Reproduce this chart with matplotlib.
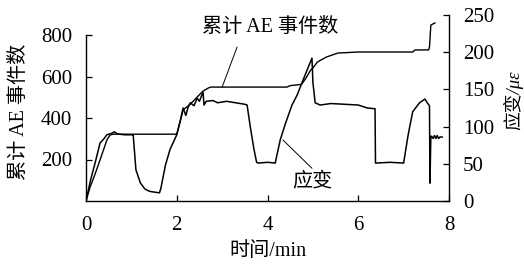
import matplotlib
matplotlib.use('Agg')
import matplotlib.pyplot as plt

FONTS = ['Liberation Serif', 'Noto Sans CJK SC']
plt.rcParams['font.family'] = FONTS

# cumulative AE event count (left axis)
ae_t = [0, 0.09, 0.2, 0.31, 0.46, 0.53, 0.6, 2.0, 2.14, 2.3, 2.45, 2.58, 2.7, 2.75,
        4.43, 4.5, 4.75, 4.85, 4.95, 5.0, 5.1, 5.3, 5.55, 6.0, 7.2, 7.25, 7.55,
        7.57, 7.6, 7.69]
ae_n = [0, 67, 130, 198, 294, 318, 322, 322, 439, 467, 501, 530, 545, 549,
        549, 556, 562, 593, 631, 641, 670, 694, 713, 718, 718, 728, 728,
        742, 848, 858]

# strain in micro-strain (right axis)
eps_t = [0, 0.1, 0.2, 0.31, 0.4, 0.46, 0.57, 0.62, 0.7, 0.85, 1.03, 1.04, 1.1, 1.2,
         1.3, 1.4, 1.5, 1.62, 1.65, 1.75, 1.85, 2.0, 2.08, 2.14, 2.2, 2.25, 2.3,
         2.38, 2.45, 2.5, 2.55, 2.58, 2.6, 2.65, 2.8, 2.9, 3.1, 3.3, 3.5, 3.55,
         3.62, 3.7, 3.76, 3.8, 4.0, 4.17, 4.28, 4.4, 4.54, 4.65, 4.8, 4.9, 4.98,
         5.0, 5.05, 5.16, 5.4, 5.7, 6.0, 6.2, 6.37, 6.38, 6.7, 7.0, 7.1, 7.2,
         7.35, 7.47, 7.52, 7.57, 7.58, 7.6, 7.62, 7.65, 7.68, 7.71, 7.74, 7.77,
         7.8, 7.85]
eps_v = [0, 28, 51, 78, 84, 89, 91, 93, 90, 89, 89, 89, 42, 24,
         16, 13, 12, 11, 17, 48, 69, 89, 108, 125, 115, 126, 132,
         128, 138, 134, 142, 146, 129, 134, 135, 132, 134, 132, 130, 129,
         100, 70, 52, 51, 52, 51, 82, 105, 129, 142, 165, 180, 192,
         160, 132, 129, 131, 130, 129, 125, 124, 51, 52, 51, 89, 120,
         132, 137, 132, 128, 24, 87, 87, 84, 88, 84, 88, 84,
         86, 86]

x_ticks = [0, 2, 4, 6, 8]
ae_ticks = [200, 400, 600, 800]
eps_ticks = [0, 50, 100, 150, 200, 250]

fig = plt.figure(figsize=(5.24, 2.65), dpi=100)
ax = fig.add_axes([86 / 524, 64 / 265, 363 / 524, 186 / 265])
ax2 = ax.twinx()

ax.plot(ae_t, ae_n, color='black', lw=1.0)
ax2.plot(eps_t, eps_v, color='black', lw=1.1)

ax.set_xlim(0, 8)
ax.set_ylim(0, 800 * 186 / 166)
ax2.set_ylim(0, 250)

ax.set_xticks(x_ticks)
ax.set_yticks(ae_ticks)
ax2.set_yticks(eps_ticks)

ax.spines['top'].set_visible(False)
ax.spines['right'].set_visible(False)
ax.spines['left'].set_bounds(0, 800)
ax2.spines['top'].set_visible(False)
ax2.spines['left'].set_visible(False)
ax2.spines['bottom'].set_visible(False)
for a in (ax, ax2):
    for s in a.spines.values():
        s.set_linewidth(1.0)

ax.tick_params(axis='both', direction='in', length=4, width=0.9, labelsize=15)
ax.tick_params(axis='x', pad=11)
ax.tick_params(axis='y', pad=10)
ax2.tick_params(axis='y', direction='in', length=4, width=0.9, labelsize=15, pad=10)

# curve labels with leader lines
ax.annotate('', xy=(3.0, 549), xytext=(3.33, 742),
            arrowprops=dict(arrowstyle='-', lw=0.7, color='black', shrinkA=0, shrinkB=0))
ax.text(4.05, 838, '累计 AE 事件数', ha='center', va='center', fontsize=14.5)
ax2.annotate('', xy=(4.98, 44), xytext=(4.34, 82),
             arrowprops=dict(arrowstyle='-', lw=0.7, color='black', shrinkA=0, shrinkB=0))
ax2.text(4.98, 25, '应变', ha='center', va='center', fontsize=14.5)

fig.text(19.5 / 524, 1 - 112 / 265, '累计 AE 事件数', rotation=90,
         ha='center', va='center', fontsize=14.5)
fig.text(513 / 524, 1 - 100 / 265, '应变/με', rotation=90, style='italic',
         ha='center', va='center', fontsize=13.5)
fig.text(267.5 / 524, 1 - 251 / 265, '时间/min', ha='center', va='center', fontsize=14.5)

fig.savefig('out.png', dpi=100)
